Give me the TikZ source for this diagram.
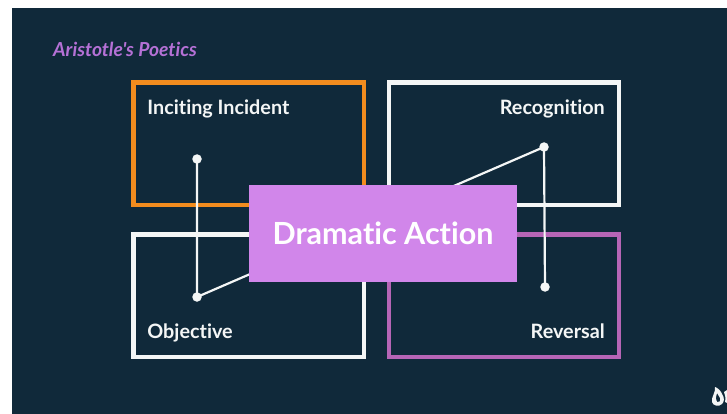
\documentclass[tikz,border=0pt]{standalone}
\usepackage{fontspec}
\setmainfont{Lato}[Ligatures=NoCommon]
\newfontfamily\titlefam{Lato}[Ligatures=NoCommon]
\definecolor{bgdark}{HTML}{10293A}
\definecolor{orangeb}{HTML}{F28C1E}
\definecolor{whiteb}{HTML}{F4F6F6}
\definecolor{purpleb}{HTML}{B665B6}
\definecolor{lilac}{HTML}{D186EA}
\definecolor{titlec}{HTML}{B571D6}
\tikzset{
  x=1pt,y=-1pt,
  framebox/.style={draw,line width=4.3pt,fill=none,minimum width=230.2pt,minimum height=122.6pt,inner sep=0pt,outer sep=0pt,anchor=north west},
  lab/.style={text=whiteb,font=\bfseries\fontsize{19.8pt}{23pt}\selectfont,inner sep=0pt},
  dot/.style={circle,fill=whiteb,draw=none,minimum size=9.5pt,inner sep=0pt},
  conn/.style={draw=whiteb,line width=2.2pt}
}
\begin{document}
\begin{tikzpicture}
\useasboundingbox (0,0) rectangle (727,414);
\fill[white] (0,0) rectangle (727,414);
\fill[bgdark] (12,8) rectangle (727,414);
\node[anchor=base west,inner sep=0pt,text=titlec,font=\titlefam\bfseries\itshape\fontsize{19.3pt}{22pt}\selectfont] (title) at (53,57) {Aristotle's Poetics};
\node[framebox,draw=orangeb] (inc) at (133.6,82.6) {};
\node[framebox,draw=whiteb] (rec) at (389,82.6) {};
\node[framebox,draw=whiteb] (obj) at (133.6,234.6) {};
\node[framebox,draw=purpleb] (rev) at (389,234.6) {};
\node[lab,anchor=base west] (tinc) at (147.2,114.5) {Inciting Incident};
\node[lab,anchor=base east] (trec) at (605,114.5) {Recognition};
\node[lab,anchor=base west] (tobj) at (147.2,338) {Objective};
\node[lab,anchor=base east] (trev) at (605,338) {Reversal};
\node[dot] (d1) at (197,159) {};
\node[dot] (d2) at (197,297) {};
\node[dot] (d3) at (544,147) {};
\node[dot] (d4) at (545,287) {};
\draw[conn] (d1.center) -- (d2.center) -- (d3.center) -- (d4.center);
\node[fill=lilac,minimum width=268pt,minimum height=97pt,inner sep=0pt,text=white,font=\bfseries\fontsize{30.5pt}{36pt}\selectfont] (act) at (383,233.5) {Dramatic Action};
% logo fragment, cut off by the right edge
\fill[whiteb,even odd rule] (715,387) .. controls (716,392) and (711,397) .. (712,402)
  .. controls (713,406) and (719,407) .. (722,404) .. controls (724,402) and (725,398) .. (722,394)
  .. controls (721,391) and (718,388) .. (715,387)
  (717,393) .. controls (716,397) and (715,400) .. (717,402) .. controls (719,403) and (721,401) .. (720,398)
  .. controls (719,396) and (718,395) .. (717,393);
\fill[whiteb] (724,392) -- (727,390) -- (727,403) -- (725,402) .. controls (726,398) and (725,395) .. (724,392);
\end{tikzpicture}
\end{document}
